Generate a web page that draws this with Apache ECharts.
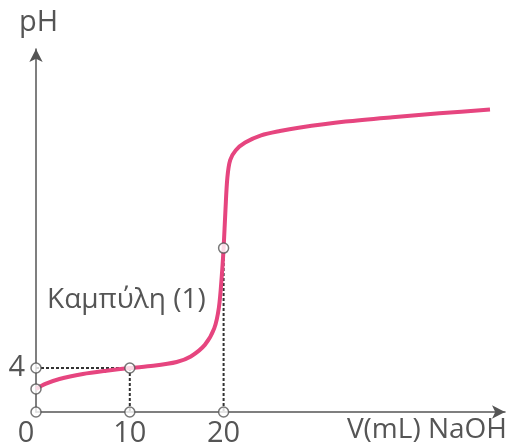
<!DOCTYPE html>
<html>
<head>
<meta charset="utf-8">
<script src="https://cdn.jsdelivr.net/npm/echarts@6/dist/echarts.min.js"></script>
<style>
  html, body { margin: 0; padding: 0; background: #fff; }
  #chart { width: 509px; height: 448px; }
</style>
</head>
<body>
<div id="chart"></div>
<script>
// titration curve
const volume = [0, 1, 2.5, 5, 7.5, 10, 12.5, 15, 16.5, 18, 19, 19.5, 19.8, 20, 20.2, 20.4, 20.7, 21.3, 22.3, 24, 26, 28, 33, 38, 43, 48.4]
const ph = [2.1, 2.55, 3.0, 3.45, 3.75, 4.0, 4.2, 4.55, 5.05, 6.1, 7.6, 9.5, 12.3, 14.9, 18.4, 21.3, 22.9, 23.8, 24.5, 25.15, 25.55, 25.85, 26.4, 26.8, 27.15, 27.5]

const xTicks = [0, 10, 20]
const yTicks = [4]

// open circles
const markV = [0, 10, 20, 0, 0, 10, 20]
const markPH = [0, 0, 0, 4, 2.1, 4, 14.9]

// dotted guides: [from, to]
const guideV = [[0, 10], [10, 10], [20, 20]]
const guidePH = [[4, 4], [4, 0], [14.9, 0]]

const pink = '#e6457f'
const ink = '#555'
const font = '"Open Sans", "Noto Sans", sans-serif'

const chart = echarts.init(document.getElementById('chart'))

const guideSeries = guideV.map((v, i) => ({
  type: 'line',
  data: [[v[0], guidePH[i][0]], [v[1], guidePH[i][1]]],
  symbol: 'none',
  silent: true,
  z: 1,
  lineStyle: { color: '#333', width: 2, type: [3, 2] }
}))

const option = {
  animation: false,
  grid: { left: 36, right: 4, top: 49, bottom: 36 },
  xAxis: {
    type: 'value',
    min: 0,
    max: 50,
    splitLine: { show: false },
    axisTick: { show: false },
    axisLine: {
      symbol: ['none', 'arrow'],
      symbolSize: [10, 13],
      lineStyle: { color: ink, width: 1.5 }
    },
    axisLabel: {
      customValues: xTicks,
      margin: 7,
      color: ink,
      fontSize: 29,
      fontFamily: font,
      formatter: v => v === 0 ? '{z|0}' : String(v),
      rich: { z: { fontSize: 29, fontFamily: font, color: ink, padding: [0, 20, 0, 0] } }
    }
  },
  yAxis: {
    type: 'value',
    min: 0,
    max: 33,
    splitLine: { show: false },
    axisTick: { show: false },
    axisLine: {
      symbol: ['none', 'arrow'],
      symbolSize: [10, 13],
      lineStyle: { color: ink, width: 1.5 }
    },
    axisLabel: {
      customValues: yTicks,
      margin: 11,
      color: ink,
      fontSize: 29,
      fontFamily: font
    }
  },
  graphic: [
    { type: 'text', left: 19, top: 8, style: { text: 'pH', font: '29px ' + font, fill: ink } },
    { type: 'text', right: 2, top: 416, style: { text: 'V(mL) NaOH', font: '28px ' + font, fill: ink } },
    { type: 'text', left: 47, top: 286, style: { text: 'Καμπύλη (1)', font: '28px ' + font, fill: ink } }
  ],
  series: [
    ...guideSeries,
    {
      type: 'line',
      data: volume.map((v, i) => [v, ph[i]]),
      smooth: 0.3,
      showSymbol: false,
      z: 2,
      lineStyle: { color: pink, width: 4 }
    },
    {
      type: 'scatter',
      data: markV.map((v, i) => [v, markPH[i]]),
      symbol: 'circle',
      symbolSize: 10,
      z: 3,
      itemStyle: { color: '#fff', borderColor: '#555', borderWidth: 1.5 }
    }
  ]
}

chart.setOption(option)
</script>
</body>
</html>
